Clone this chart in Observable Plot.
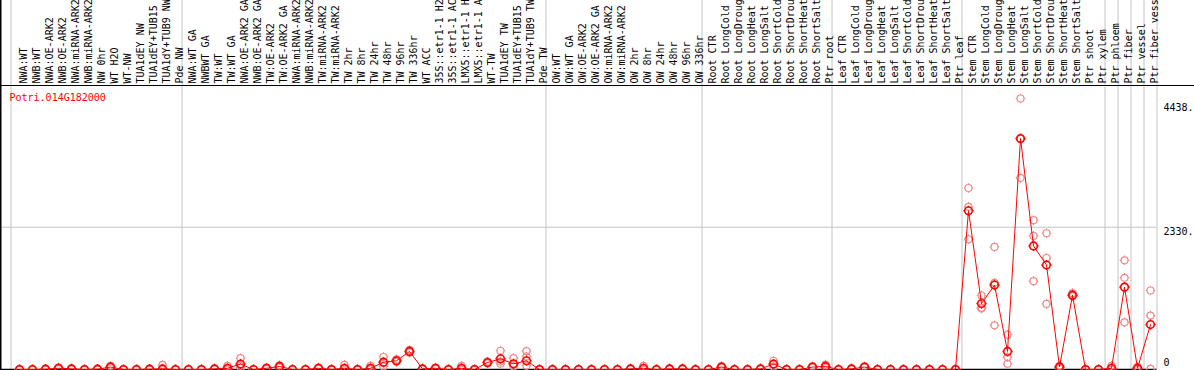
<!DOCTYPE html>
<html>
<head>
<meta charset="utf-8">
<script src="https://cdn.jsdelivr.net/npm/d3@7"></script>
<script src="https://cdn.jsdelivr.net/npm/@observablehq/plot@0.6"></script>
<style>
  html, body { margin: 0; padding: 0; background: #fff; overflow: hidden; }
  #chart svg { display: block; }
</style>
</head>
<body>
<div id="chart"></div>
<script>
const geneId = "Potri.014G182000";

const samples = [
  "NWA:WT","NWB:WT","NWA:OE-ARK2","NWB:OE-ARK2","NWA:miRNA-ARK2","NWB:miRNA-ARK2","NW 0hr","WT H2O","WT-NW","TUA1dEY NW","TUA1dEY+TUB15 NW","TUA1dY+TUB9 NW","Pde NW",
  "NWA:WT GA","NWBWT GA","TW:WT","TW:WT GA","NWA:OE-ARK2 GA","NWB:OE-ARK2 GA","TW:OE-ARK2","TW:OE-ARK2 GA","NWA:miRNA-ARK2","NWB:miRNA-ARK2","TW:miRNA-ARK2","TW:miRNA-ARK2","TW 2hr","TW 8hr","TW 24hr","TW 48hr","TW 96hr","TW 336hr","WT ACC","35S::etr1-1 H2O","35S::etr1-1 ACC","LMX5::etr1-1 H2O","LMX5::etr1-1 ACC","WT-TW","TUA1dEY TW","TUA1dEY+TUB15 TW","TUA1dY+TUB9 TW","Pde TW",
  "OW:WT","OW:WT GA","OW:OE-ARK2","OW:OE-ARK2 GA","OW:miRNA-ARK2","OW:miRNA-ARK2","OW 2hr","OW 8hr","OW 24hr","OW 48hr","OW 96hr","OW 336hr",
  "Root CTR","Root LongCold","Root LongDrought","Root LongHeat","Root LongSalt","Root ShortCold","Root ShortDrought","Root ShortHeat","Root ShortSalt","Ptr root",
  "Leaf CTR","Leaf LongCold","Leaf LongDrought","Leaf LongHeat","Leaf LongSalt","Leaf ShortCold","Leaf ShortDrought","Leaf ShortHeat","Leaf ShortSalt","Ptr leaf",
  "Stem CTR","Stem LongCold","Stem LongDrought","Stem LongHeat","Stem LongSalt","Stem ShortCold","Stem ShortDrought","Stem ShortHeat","Stem ShortSalt","Ptr shoot","Ptr xylem","Ptr phloem","Ptr fiber","Ptr vessel","Ptr fiber vessel"
];

const means = [
  0,0,5,20,10,0,5,40,0,0,5,10,0,
  0,0,10,20,90,0,20,50,0,0,20,0,20,0,20,120,143,296,10,20,0,20,0,115,175,93,143,0,
  0,0,0,0,0,0,10,20,0,10,10,0,
  0,40,0,0,10,90,0,0,40,50,
  0,10,40,0,0,0,0,0,0,0,
  2599,1080,1383,296,3783,2023,1711,40,1217,0,0,20,1349,20,735
];

const rep1 = [
  0,0,8,30,15,0,8,60,0,0,8,75,0,
  0,0,15,60,185,0,30,70,0,0,30,0,75,0,60,205,165,320,15,30,0,60,0,130,307,186,300,0,
  0,0,0,0,0,0,15,60,0,15,15,0,
  0,55,0,0,15,143,0,0,50,80,
  0,15,50,0,0,0,0,0,0,0,
  2972,1212,2007,570,4438,2445,2231,60,1250,0,0,60,1788,40,1294
];
const rep2 = [
  0,0,5,20,10,0,5,40,0,0,5,5,0,
  0,0,10,10,60,0,20,50,0,0,20,0,5,0,10,110,140,290,10,20,0,5,0,115,130,87,214,0,
  0,0,0,0,0,0,10,0,0,10,10,0,
  0,40,0,0,10,80,0,0,40,45,
  0,10,40,0,0,0,0,0,0,0,
  2664,1010,1419,203,3776,2188,1826,40,1217,0,0,0,1502,20,883
];
const rep3 = [
  0,0,2,10,5,0,2,20,0,0,2,0,0,
  0,0,5,0,30,0,10,30,0,0,10,0,0,0,0,50,125,280,5,10,0,0,0,100,93,50,60,0,
  0,0,0,0,0,0,5,0,0,5,5,0,
  0,25,0,0,5,47,0,0,30,25,
  0,5,30,0,0,0,0,0,0,0,
  2133,1000,724,93,3137,1447,1074,20,1200,0,0,0,773,0,10
];

// group separators, in sample-index units
const groupBreaks = [-0.65, 12.5, 40.5, 52.5, 62.5, 72.5, 83.5, 84.5, 85.5, 86.5, 87.5];
const gridValues = [2330];
const tickValues = [4438, 2330, 0];
const tickLabels = ["4438.", "2330.", "0"];

// ---- layout / style ----
const W = 1194, H = 370;
const mT = 85, mB = 1, mL = 19, mR = 44;
const n = samples.length;
const step = (W - mL - mR) / (n - 1);
const yMax = 4438 * (H - mB - mT) / (H - mB - 98); // top of y domain so the max sits near the frame top
const ySvgTop = yMax * (H - mB) / (H - mB - mT);
const xSvgLeft = -mL / step;
const xSvgRight = (n - 1) + mR / step;
const xAxisEnd = 87.5;
const tickDy = [9, 5, -7];

const rows = samples.map((s, i) => ({i, sample: s, mean: means[i]}));
const repRows = [rep1, rep2, rep3].flatMap(rep => rep.map((v, i) => ({i, v})));

// circle with four short stubs (as in the original's pixel markers)
const gear = {
  draw(ctx, size) {
    const r = Math.sqrt(size / Math.PI);
    const s = 1.3;
    ctx.moveTo(r, 0);
    ctx.arc(0, 0, r, 0, 2 * Math.PI);
    ctx.moveTo(0, -r); ctx.lineTo(0, -r - s);
    ctx.moveTo(0, r); ctx.lineTo(0, r + s);
    ctx.moveTo(-r, 0); ctx.lineTo(-r - s, 0);
    ctx.moveTo(r, 0); ctx.lineTo(r + s, 0);
  }
};

const font = "'DejaVu Sans Mono', 'Liberation Mono', monospace";

const chart = Plot.plot({
  width: W, height: H,
  marginTop: mT, marginBottom: mB, marginLeft: mL, marginRight: mR,
  x: {type: "linear", domain: [0, n - 1], axis: null},
  y: {domain: [0, yMax], axis: null},
  style: {fontFamily: font, fontSize: "10px", background: "#fff", color: "black"},
  marks: [
    Plot.ruleX(groupBreaks, {x: d => d, y1: 0, y2: ySvgTop, stroke: "#c4c4c4", strokeWidth: 1}),
    Plot.ruleY(gridValues, {y: d => d, x1: xSvgLeft, x2: xAxisEnd, stroke: "#c4c4c4", strokeWidth: 1}),
    Plot.ruleY([0], {x1: xSvgLeft, x2: xAxisEnd, stroke: "black", strokeWidth: 1.5}),
    Plot.ruleY([yMax], {x1: xSvgLeft, x2: xSvgRight, stroke: "black", strokeWidth: 1.2}),
    Plot.ruleX([xSvgLeft], {y1: 0, y2: ySvgTop, stroke: "black", strokeWidth: 2}),
    Plot.text(samples, {
      x: (d, i) => i, text: d => d, frameAnchor: "top",
      rotate: -90, textAnchor: "start", dy: -2, fill: "black"
    }),
    Plot.text([geneId], {
      text: d => d, frameAnchor: "top-left", dx: -10, dy: 8,
      lineAnchor: "top", textAnchor: "start", fill: "#ff0000"
    }),
    ...tickValues.map((v, k) => Plot.text([tickLabels[k]], {
      x: () => n + 0, y: () => v, text: d => d, textAnchor: "start", dy: tickDy[k], fill: "black"
    })),
    Plot.dot(repRows, {x: "i", y: "v", r: 3.5, symbol: gear, fill: "none", stroke: "#ee8a8a", strokeWidth: 1.2}),
    Plot.line(rows, {x: "i", y: "mean", stroke: "#ff0000", strokeWidth: 1}),
    Plot.dot(rows, {x: "i", y: "mean", r: 3.8, symbol: gear, fill: "none", stroke: "#ff0000", strokeWidth: 1.6})
  ]
});

document.getElementById("chart").appendChild(chart);
</script>
</body>
</html>
